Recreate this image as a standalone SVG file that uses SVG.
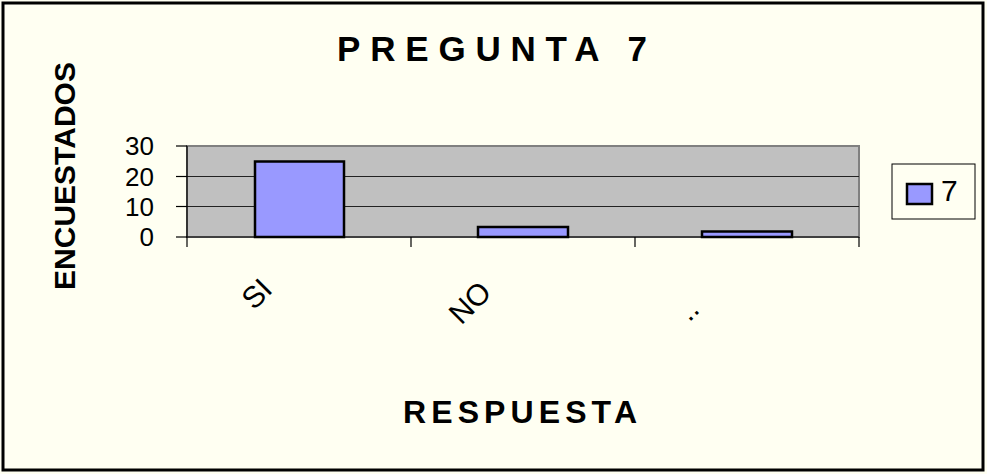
<svg xmlns="http://www.w3.org/2000/svg" width="987" height="474" viewBox="0 0 987 474">
<style>
.t{font-family:"Liberation Sans",Arial,sans-serif;fill:#000}
.b{font-weight:bold}
.bar{fill:#9999FF;stroke:#000;stroke-width:2.5}
.grid{stroke:#222;stroke-width:1.2}
.tick{stroke:#000;stroke-width:1.2}
</style>
<rect x="0" y="0" width="987" height="474" fill="#FFFFF2"/>
<rect x="3" y="3" width="980" height="467" fill="#FFFFF2" stroke="#000" stroke-width="3"/>
<g id="title"><text class="t b" x="337" y="61" font-size="35" textLength="310" lengthAdjust="spacing">PREGUNTA 7</text></g>
<g id="plot">
<rect x="187" y="146" width="672" height="91" fill="#C0C0C0" stroke="#808080" stroke-width="2"/>
<line class="grid" x1="187" y1="176.5" x2="859" y2="176.5"/>
<line class="grid" x1="187" y1="206.5" x2="859" y2="206.5"/>
</g>
<g id="bars">
<rect id="bar-si" class="bar" x="255" y="161.5" width="89" height="75.5"/>
<rect id="bar-no" class="bar" x="478" y="227" width="90" height="10"/>
<rect id="bar-dots" class="bar" x="702" y="231.5" width="90" height="5.5"/>
</g>
<g id="axes">
<line class="tick" x1="187" y1="146" x2="187" y2="247" stroke-width="1.5"/>
<line class="tick" x1="186" y1="237" x2="859" y2="237" stroke-width="1.5"/>
<line class="tick" x1="176" y1="146" x2="187" y2="146"/>
<line class="tick" x1="176" y1="176.5" x2="187" y2="176.5"/>
<line class="tick" x1="176" y1="206.5" x2="187" y2="206.5"/>
<line class="tick" x1="176" y1="237" x2="187" y2="237"/>
<line class="tick" x1="411" y1="237" x2="411" y2="247"/>
<line class="tick" x1="635" y1="237" x2="635" y2="247"/>
<line class="tick" x1="859" y1="237" x2="859" y2="247"/>
</g>
<g id="ylabels" class="t" font-size="26" text-anchor="end">
<text x="154" y="155">30</text>
<text x="154" y="185.5">20</text>
<text x="154" y="215.5">10</text>
<text x="154" y="246">0</text>
</g>
<g id="xlabels" class="t" font-size="30" text-anchor="end">
<text transform="translate(274 291) rotate(-45)">SI</text>
<text transform="translate(493 294) rotate(-45)">NO</text>
<text transform="translate(701 311) rotate(-45)">..</text>
</g>
<g id="ytitle"><text class="t b" font-size="30" text-anchor="middle" transform="translate(75 176) rotate(-90)">ENCUESTADOS</text></g>
<g id="xtitle"><text class="t b" x="403" y="423" font-size="32" textLength="234" lengthAdjust="spacing">RESPUESTA</text></g>
<g id="legend">
<rect x="892" y="164" width="83" height="55" fill="#FFFFF2" stroke="#000" stroke-width="1"/>
<rect class="bar" x="907" y="184" width="25" height="20" stroke-width="2"/>
<text class="t" x="941" y="201" font-size="30">7</text>
</g>
</svg>
